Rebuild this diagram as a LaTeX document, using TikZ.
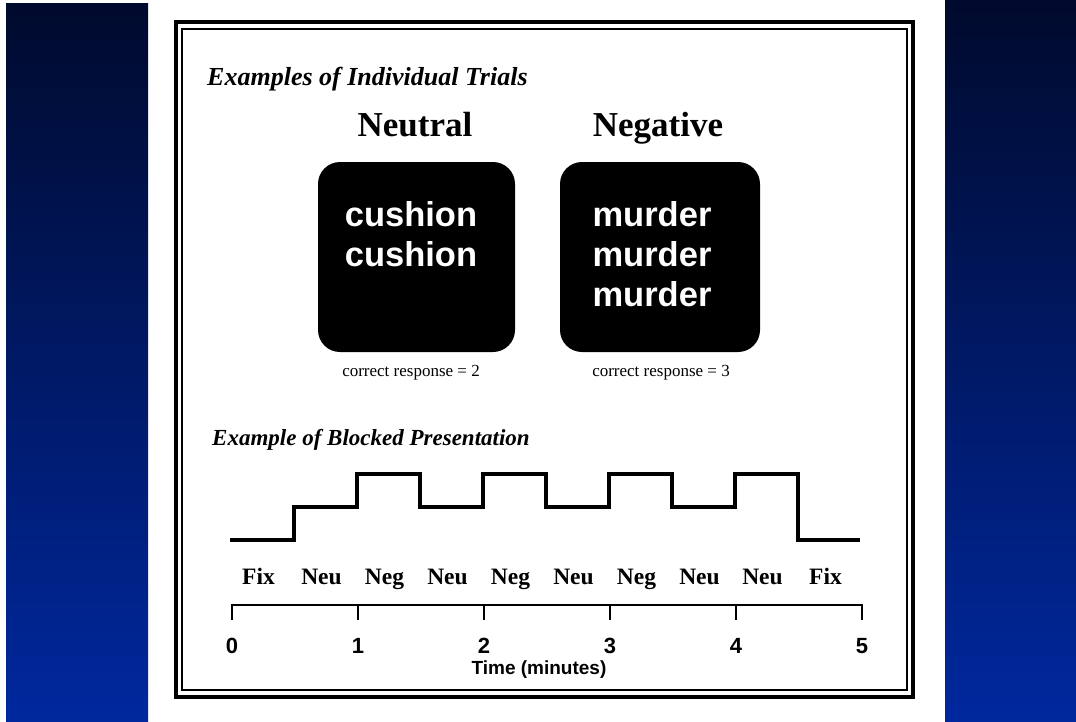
\documentclass[tikz,border=0pt]{standalone}
\usepackage{fontspec}
\setmainfont{Liberation Serif}
\setsansfont{Liberation Sans}
\usetikzlibrary{positioning,calc}

\definecolor{slidetop}{RGB}{0,10,45}
\definecolor{slidebot}{RGB}{0,40,158}

\tikzset{
  heading/.style={font=\bfseries\itshape\fontsize{26}{30}\selectfont, anchor=base west, inner sep=0pt},
  cond/.style={font=\bfseries\fontsize{35}{40}\selectfont, anchor=base, inner sep=0pt},
  card/.style={fill=black, rounded corners=22pt, minimum width=197pt, minimum height=190pt, inner sep=0pt},
  word/.style={font=\sffamily\bfseries\fontsize{34.5}{38}\selectfont, text=white, anchor=base, inner sep=0pt},
  resp/.style={font=\fontsize{17}{20}\selectfont, anchor=base, inner sep=0pt},
  blk/.style={font=\bfseries\fontsize{23.5}{26}\selectfont, anchor=base, inner sep=0pt},
  tnum/.style={font=\sffamily\bfseries\fontsize{22}{26}\selectfont, anchor=base, inner sep=0pt},
}

\begin{document}
\begin{tikzpicture}[x=1pt,y=-1pt]
                \useasboundingbox (0,0) rectangle (1076,721);
                \fill[white] (0,0) rectangle (1076,721);
                % slide background on both sides
                \shade[top color=slidetop, bottom color=slidebot] (6,3) rectangle (148,721);
                \shade[top color=slidetop, bottom color=slidebot] (945,0) rectangle (1076,721);
                % double frame
                \draw[line width=3.5pt] (176,22) rectangle (913,697);
                \draw[line width=1.8pt] (182,29) rectangle (907,690);

                % single trials
                \node[heading] (trialhd) at (207,85) {Examples of Individual Trials};
                \node[cond] (neulbl) at (415,136) {Neutral};
                \node[cond] (neglbl) at (658,136) {Negative};
                \node[card] (neucard) at (416.5,257) {};
                \node[card, minimum width=200pt] (negcard) at (660,257) {};
                \foreach \i/\y in {1/226,2/266}
                    \node[word] (cush\i) at (411,\y) {cushion};
                \foreach \i/\y in {1/226,2/266,3/306}
                    \node[word] (murd\i) at (652,\y) {murder};
                \node[resp] (neuresp) at (411,376) {correct response = 2};
                \node[resp] (negresp) at (661,376) {correct response = 3};

                % blocked design
                \node[heading, font=\bfseries\itshape\fontsize{23}{27}\selectfont] (blockhd) at (212,445) {Example of Blocked Presentation};
                \draw[line width=4pt] (230,540) -| (294,507) -| (357,474) -| (420,507)
                    -| (483,474) -| (546,507) -| (609,474) -| (672,507) -| (735,474)
                    -| (798,540) -- (860,540);
                \foreach \lab [count=\i] in {Fix,Neu,Neg,Neu,Neg,Neu,Neg,Neu,Neu,Fix}
                    \node[blk] (blk\i) at ({232+63*(\i-0.5)-5},584) {\lab};

                % time axis
                \draw[line width=2pt] (232,620) |- (862,605) -- (862,620);
                \foreach \t in {1,...,4}
                    \draw[line width=2pt] (232+126*\t,605) -- ++(0,15);
                \foreach \t in {0,...,5}
                    \node[tnum] (tn\t) at (232+126*\t,653) {\t};
                \node[font=\sffamily\bfseries\fontsize{19}{22}\selectfont, anchor=base, inner sep=0pt] (tlabel) at (539,674) {Time (minutes)};
            \end{tikzpicture}
\end{document}
